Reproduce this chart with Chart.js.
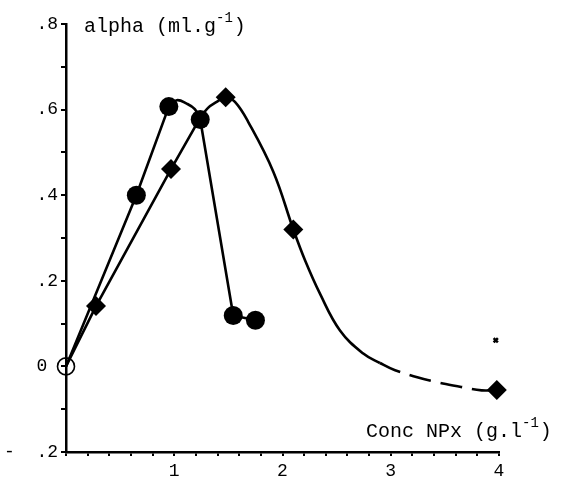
<!DOCTYPE html>
<html><head><meta charset="utf-8">
<script src="https://cdn.jsdelivr.net/npm/chart.js@4"></script>
<style>html,body{margin:0;padding:0;background:#fff}</style>
</head><body>
<canvas id="c" width="571" height="481" style="width:571px;height:481px;display:block"></canvas>
<script>
const circleX = [0.65, 0.95, 1.24, 1.545, 1.75];
const circleY = [0.40, 0.607, 0.577, 0.119, 0.108];
const diamondX = [0.277, 0.97, 1.475, 2.10, 3.98];
const diamondY = [0.141, 0.461, 0.629, 0.32, -0.055];
const originX = [0];
const originY = [0];
const starX = [3.97];
const starY = [0.061];
// Hand-drawn curve paths, split into straight and curved pieces
const circleRiseX = [0, 0.65, 0.95];
const circleRiseY = [0, 0.40, 0.607];
const circleArchX = [0.95, 1.023, 1.115, 1.19, 1.24];
const circleArchY = [0.607, 0.622, 0.614, 0.601, 0.577];
const circleFallX = [1.24, 1.545, 1.75];
const circleFallY = [0.577, 0.119, 0.108];
const diamondRiseX = [0, 0.277, 0.97, 1.238];
const diamondRiseY = [0, 0.141, 0.461, 0.580];
const diamondArchX = [1.238, 1.312, 1.392, 1.475, 1.561, 1.684, 1.915, 2.10, 2.208, 2.346, 2.531, 2.746, 2.90, 3.04, 3.36, 3.65, 3.84, 3.98];
const diamondArchY = [0.580, 0.604, 0.618, 0.629, 0.618, 0.571, 0.455, 0.32, 0.248, 0.170, 0.084, 0.030, 0.008, -0.009, -0.033, -0.048, -0.056, -0.055];
const dashStartX = 2.89;
// Axis tick labels
const yTickValues = [0.8, 0.6, 0.4, 0.2, 0, -0.2];
const yTickLabels = ['.8', '.6', '.4', '.2', '0 ', '-  .2'];
const xTickValues = [1, 2, 3, 4];
const xTickLabels = ['1', '2', '3', '4'];
const yTitle = ['alpha (ml.g', '-1', ')'];
const xTitle = ['Conc NPx (g.l', '-1', ')'];

const pts = (xs, ys) => xs.map((x, i) => ({x, y: ys[i]}));
const MONO = "'Liberation Mono', 'DejaVu Sans Mono', monospace";
const near = (a, b) => Math.abs(a - b) < 1e-6;

const titlePlugin = {
  id: 'titles',
  afterDraw(chart) {
    const ctx = chart.ctx, ca = chart.chartArea;
    function drawSup(parts, x, y) {
      ctx.save();
      ctx.fillStyle = '#000';
      ctx.textBaseline = 'alphabetic';
      ctx.textAlign = 'left';
      ctx.font = '20px ' + MONO;
      ctx.fillText(parts[0], x, y);
      let w = ctx.measureText(parts[0]).width;
      ctx.font = '14px ' + MONO;
      ctx.fillText(parts[1], x + w, y - 10);
      w += ctx.measureText(parts[1]).width + 1;
      ctx.font = '20px ' + MONO;
      ctx.fillText(parts[2], x + w, y);
      ctx.restore();
    }
    drawSup(yTitle, ca.left + 18, ca.top + 8);
    drawSup(xTitle, ca.left + 300, ca.bottom - 15);
  }
};

const lineDs = (xs, ys, tension, extra) => Object.assign({
  data: pts(xs, ys), showLine: true, pointRadius: 0, borderColor: '#000', borderWidth: 2.6,
  tension, order: 2, clip: false, borderCapStyle: 'round', borderJoinStyle: 'round'
}, extra || {});

new Chart(document.getElementById('c'), {
  type: 'scatter',
  data: {
    datasets: [
      lineDs(circleRiseX, circleRiseY, 0),
      lineDs(circleArchX, circleArchY, 0.4),
      lineDs(circleFallX, circleFallY, 0),
      lineDs(diamondRiseX, diamondRiseY, 0),
      lineDs(diamondArchX, diamondArchY, 0.4, {
        borderCapStyle: 'butt',
        segment: { borderDash: c => c.p0.parsed.x >= dashStartX ? [22, 10] : undefined } }),
      { data: pts(circleX, circleY), pointStyle: 'circle', pointRadius: 9.5, backgroundColor: '#000', borderColor: '#000', borderWidth: 0, order: 0, clip: false },
      { data: pts(diamondX, diamondY), pointStyle: 'rectRot', pointRadius: 10, backgroundColor: '#000', borderColor: '#000', borderWidth: 0, order: 0, clip: false },
      { data: pts(originX, originY), pointStyle: 'circle', pointRadius: 8.5, backgroundColor: 'rgba(0,0,0,0)', borderColor: '#000', borderWidth: 1.6, order: 0, clip: false },
      { data: pts(starX, starY), pointStyle: 'crossRot', pointRadius: 3, backgroundColor: '#000', borderColor: '#000', borderWidth: 2.5, order: 0, clip: false }
    ]
  },
  options: {
    responsive: false,
    animation: false,
    devicePixelRatio: 1,
    layout: { padding: { left: 0, right: 72, top: 24, bottom: 0 } },
    plugins: { legend: { display: false }, tooltip: { enabled: false }, title: { display: false } },
    scales: {
      x: {
        type: 'linear', min: 0, max: 4,
        afterFit: s => { s.height = 29; },
        border: { display: true, color: '#000', width: 2.5 },
        grid: { drawOnChartArea: false, drawTicks: true, tickLength: 4, color: '#000', lineWidth: 2 },
        ticks: {
          stepSize: 0.2, padding: 4, color: '#000', font: { family: MONO, size: 18 },
          callback: v => { const i = xTickValues.findIndex(t => near(t, v)); return i >= 0 ? xTickLabels[i] : ''; }
        }
      },
      y: {
        type: 'linear', min: -0.2, max: 0.8,
        afterFit: s => { s.width = 66; },
        border: { display: true, color: '#000', width: 2.5 },
        grid: { drawOnChartArea: false, drawTicks: true, tickLength: 5, color: '#000', lineWidth: 2 },
        ticks: {
          stepSize: 0.05, padding: 3, color: '#000', font: { family: MONO, size: 18 },
          callback: v => { const i = yTickValues.findIndex(t => near(t, v)); return i >= 0 ? yTickLabels[i] : ''; }
        }
      }
    }
  },
  plugins: [titlePlugin]
});
</script>
</body></html>
